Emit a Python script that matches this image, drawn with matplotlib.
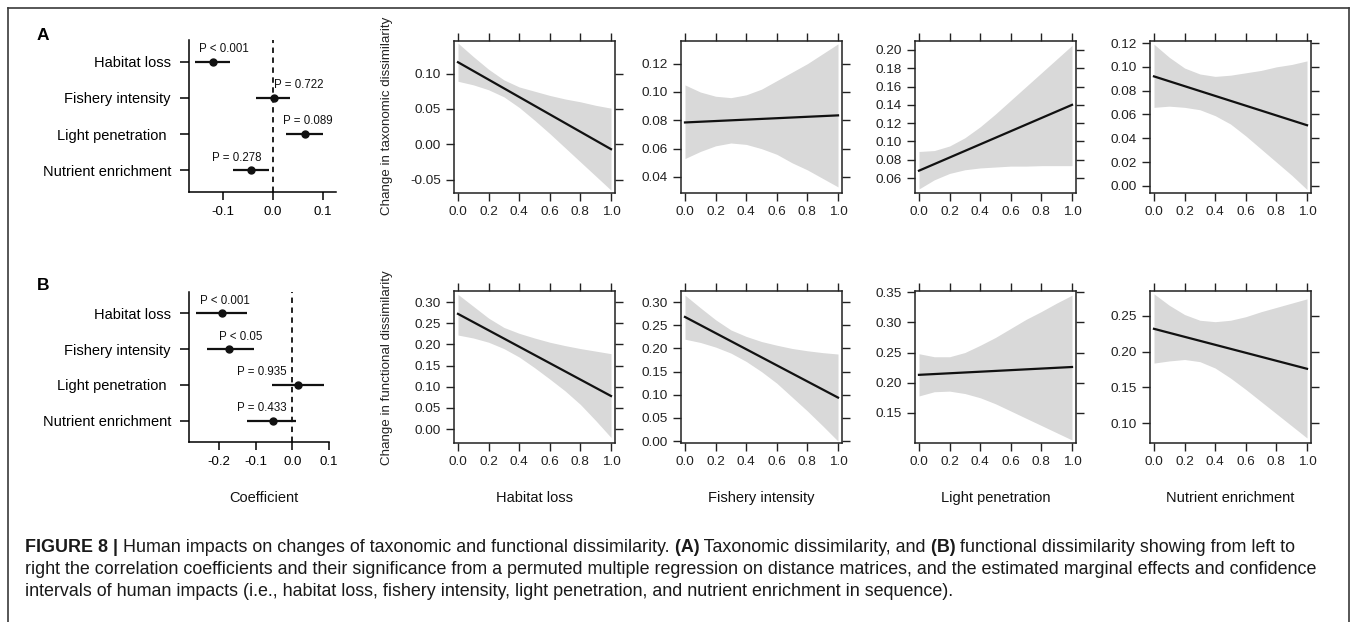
import matplotlib
matplotlib.use('Agg')
import matplotlib.pyplot as plt
from matplotlib import font_manager
from matplotlib.lines import Line2D

plt.rcParams['font.family'] = ['Liberation Sans', 'DejaVu Sans']

W, H = 1358, 622

# ---- coefficient panels (left column) ----
factors = ['Habitat loss', 'Fishery intensity', 'Light penetration ', 'Nutrient enrichment']

coef_a = [-0.120, 0.001, 0.063, -0.044]
low_a = [-0.156, -0.034, 0.026, -0.080]
high_a = [-0.086, 0.033, 0.100, -0.008]
plab_a = ['P < 0.001', 'P = 0.722', 'P = 0.089', 'P = 0.278']
plab_x_a = [-0.098, 0.052, 0.070, -0.072]

coef_b = [-0.191, -0.172, 0.016, -0.052]
low_b = [-0.262, -0.234, -0.055, -0.123]
high_b = [-0.123, -0.106, 0.085, 0.011]
plab_b = ['P < 0.001', 'P < 0.05', 'P = 0.935', 'P = 0.433']
plab_x_b = [-0.183, -0.142, -0.082, -0.082]

# ---- marginal effect panels ----
xs = [0.0, 0.1, 0.2, 0.3, 0.4, 0.5, 0.6, 0.7, 0.8, 0.9, 1.0]
xlabels = ['Habitat loss', 'Fishery intensity', 'Light penetration', 'Nutrient enrichment']

# fitted value at x=0 and x=1
fit_a = [(0.116, -0.007), (0.0785, 0.0835), (0.068, 0.140), (0.092, 0.051)]
fit_b = [(0.272, 0.078), (0.268, 0.094), (0.213, 0.226), (0.232, 0.176)]

band_lo_a = [
    [0.089, 0.084, 0.077, 0.067, 0.052, 0.034, 0.015, -0.005, -0.025, -0.045, -0.065],
    [0.053, 0.058, 0.062, 0.064, 0.063, 0.060, 0.056, 0.050, 0.045, 0.039, 0.033],
    [0.048, 0.058, 0.065, 0.069, 0.071, 0.072, 0.073, 0.073, 0.0735, 0.0735, 0.0735],
    [0.066, 0.067, 0.066, 0.064, 0.059, 0.052, 0.042, 0.031, 0.020, 0.009, -0.003],
]
band_hi_a = [
    [0.143, 0.124, 0.106, 0.091, 0.081, 0.075, 0.069, 0.064, 0.060, 0.055, 0.051],
    [0.105, 0.100, 0.097, 0.096, 0.098, 0.102, 0.108, 0.114, 0.120, 0.127, 0.134],
    [0.089, 0.090, 0.095, 0.104, 0.116, 0.130, 0.145, 0.160, 0.175, 0.190, 0.205],
    [0.119, 0.108, 0.099, 0.094, 0.092, 0.093, 0.095, 0.097, 0.100, 0.102, 0.105],
]
band_lo_b = [
    [0.222, 0.215, 0.205, 0.190, 0.170, 0.145, 0.118, 0.090, 0.058, 0.020, -0.020],
    [0.220, 0.213, 0.203, 0.190, 0.172, 0.150, 0.125, 0.095, 0.065, 0.033, 0.000],
    [0.178, 0.185, 0.186, 0.182, 0.175, 0.165, 0.153, 0.141, 0.129, 0.117, 0.105],
    [0.184, 0.187, 0.189, 0.186, 0.177, 0.163, 0.147, 0.130, 0.113, 0.096, 0.079],
]
band_hi_b = [
    [0.318, 0.290, 0.262, 0.240, 0.226, 0.215, 0.205, 0.197, 0.190, 0.184, 0.178],
    [0.315, 0.288, 0.262, 0.240, 0.226, 0.215, 0.207, 0.200, 0.195, 0.191, 0.188],
    [0.248, 0.243, 0.243, 0.250, 0.262, 0.275, 0.290, 0.305, 0.318, 0.332, 0.345],
    [0.281, 0.265, 0.252, 0.244, 0.242, 0.244, 0.249, 0.256, 0.262, 0.268, 0.274],
]

ylims_a = [(-0.069, 0.146), (0.0287, 0.136), (0.0436, 0.2098), (-0.0059, 0.1217)]
ylims_b = [(-0.033, 0.326), (-0.004, 0.324), (0.100, 0.352), (0.072, 0.285)]
yticks_a = [[-0.05, 0.0, 0.05, 0.10], [0.04, 0.06, 0.08, 0.10, 0.12],
            [0.06, 0.08, 0.10, 0.12, 0.14, 0.16, 0.18, 0.20],
            [0.0, 0.02, 0.04, 0.06, 0.08, 0.10, 0.12]]
yticks_b = [[0.0, 0.05, 0.10, 0.15, 0.20, 0.25, 0.30], [0.0, 0.05, 0.10, 0.15, 0.20, 0.25, 0.30],
            [0.15, 0.20, 0.25, 0.30, 0.35], [0.10, 0.15, 0.20, 0.25]]

ylab_a = 'Change in taxonomic dissimilarity'
ylab_b = 'Change in functional dissimilarity'

caption = [
    [('FIGURE 8 |', 'bold'), (' Human impacts on changes of taxonomic and functional dissimilarity.', 'normal'),
     (' (A)', 'bold'), (' Taxonomic dissimilarity, and', 'normal'), (' (B)', 'bold'),
     (' functional dissimilarity showing from left to', 'normal')],
    [('right the correlation coefficients and their significance from a permuted multiple regression on '
      'distance matrices, and the estimated marginal effects and confidence', 'normal')],
    [('intervals of human impacts (i.e., habitat loss, fishery intensity, light penetration, and nutrient '
      'enrichment in sequence).', 'normal')],
]


def rect(l, t, r, b):
    return [l / W, 1 - b / H, (r - l) / W, (b - t) / H]


fig = plt.figure(figsize=(W / 100, H / 100), dpi=100)
fig.patch.set_facecolor('white')

# frame around figure
lc = '#3a3a3a'
fig.add_artist(Line2D([8 / W, 1349 / W], [1 - 8 / H, 1 - 8 / H], color=lc, lw=1.2))
fig.add_artist(Line2D([8 / W, 8 / W], [0, 1 - 8 / H], color=lc, lw=1.2))
fig.add_artist(Line2D([1349 / W, 1349 / W], [0, 1 - 8 / H], color=lc, lw=1.2))


def coef_panel(box, xlim, xticks, coef, lo, hi, plabs, plx):
    ax = fig.add_axes(rect(*box))
    rows = [1, 2, 3, 4]
    ax.axvline(0, color='#111', lw=1.3, ls=(0, (3, 2.5)))
    ax.hlines(rows, lo, hi, color='#111', lw=1.6)
    ax.plot(coef, rows, 'o', color='#111', ms=5)
    for r, s, x in zip(rows, plabs, plx):
        ax.text(x, r - 0.35, s, ha='center', va='center', fontsize=8.3, color='#111')
    ax.set_ylim(4.6, 0.4)
    ax.set_xlim(*xlim)
    ax.set_yticks(rows)
    ax.set_yticklabels(factors, fontsize=10.5)
    ax.set_xticks(xticks)
    ax.set_xticklabels(['%.1f' % v if v != 0 else '0.0' for v in xticks], fontsize=9.5)
    ax.tick_params(axis='y', direction='out', length=6.5, width=1.1, pad=6.5)
    ax.tick_params(axis='x', direction='out', length=6, width=1.1, pad=4)
    for s in ['top', 'right']:
        ax.spines[s].set_visible(False)
    for s in ['left', 'bottom']:
        ax.spines[s].set_linewidth(1.1)
    return ax


coef_panel((189, 40, 336, 192), (-0.168, 0.126), [-0.1, 0.0, 0.1],
           coef_a, low_a, high_a, plab_a, plab_x_a)
coef_panel((189, 292, 329, 442), (-0.282, 0.1), [-0.2, -0.1, 0.0, 0.1],
           coef_b, low_b, high_b, plab_b, plab_x_b)

lefts = [454, 681, 915, 1150]
pw = 161


def effect_panel(box, fit, lo, hi, ylim, yticks):
    ax = fig.add_axes(rect(*box))
    ax.fill_between(xs, lo, hi, color='#d9d9d9', lw=0)
    ax.plot([0, 1], fit, color='#111', lw=1.6)
    ax.set_xlim(-0.026, 1.026)
    ax.set_ylim(*ylim)
    ax.set_xticks(xs[::2])
    ax.set_xticklabels(['%.1f' % v for v in xs[::2]])
    ax.set_yticks(yticks)
    ax.set_yticklabels(['%.2f' % v for v in yticks])
    ax.tick_params(direction='out', length=6, width=1.0, top=True, right=True,
                   labelsize=9.7, pad=3.5, colors='#222')
    for s in ax.spines.values():
        s.set_linewidth(1.1)
        s.set_color('#222')
    return ax


for i in range(4):
    effect_panel((lefts[i], 41, lefts[i] + pw, 193), fit_a[i], band_lo_a[i], band_hi_a[i],
                 ylims_a[i], yticks_a[i])
    effect_panel((lefts[i], 291, lefts[i] + pw, 443), fit_b[i], band_lo_b[i], band_hi_b[i],
                 ylims_b[i], yticks_b[i])
    fig.text((lefts[i] + pw / 2) / W, 1 - 498 / H, xlabels[i], ha='center', va='center',
             fontsize=10.5, color='#111')

fig.text(387 / W, 1 - 116 / H, ylab_a, rotation=90, ha='center', va='center', fontsize=9.6, color='#222')
fig.text(387 / W, 1 - 368 / H, ylab_b, rotation=90, ha='center', va='center', fontsize=9.6, color='#222')
fig.text(264 / W, 1 - 498 / H, 'Coefficient', ha='center', va='center', fontsize=10.5, color='#111')

fig.text(43 / W, 1 - 36 / H, 'A', ha='center', va='center', fontsize=12.5, fontweight='bold')
fig.text(43 / W, 1 - 285 / H, 'B', ha='center', va='center', fontsize=12.5, fontweight='bold')

# caption, sized so the second line spans the same width as in the original
names = {f.name for f in font_manager.fontManager.ttflist}
cap_font = 'Liberation Sans Narrow' if 'Liberation Sans Narrow' in names else 'Liberation Sans'
renderer = fig.canvas.get_renderer()
probe = fig.text(0, 0, caption[1][0][0], fontsize=10, family=cap_font)
pw2 = probe.get_window_extent(renderer=renderer).width
probe.remove()
cap_size = 10 * (1318 - 25) / pw2

for line, y in zip(caption, [548, 570, 592]):
    x = 25
    for s, wt in line:
        t = fig.text(x / W, 1 - y / H, s, ha='left', va='center', fontsize=cap_size,
                     family=cap_font, fontweight=wt, color='#1a1a1a')
        x = t.get_window_extent(renderer=renderer).x1

fig.savefig('out.png', dpi=100, facecolor='white')
